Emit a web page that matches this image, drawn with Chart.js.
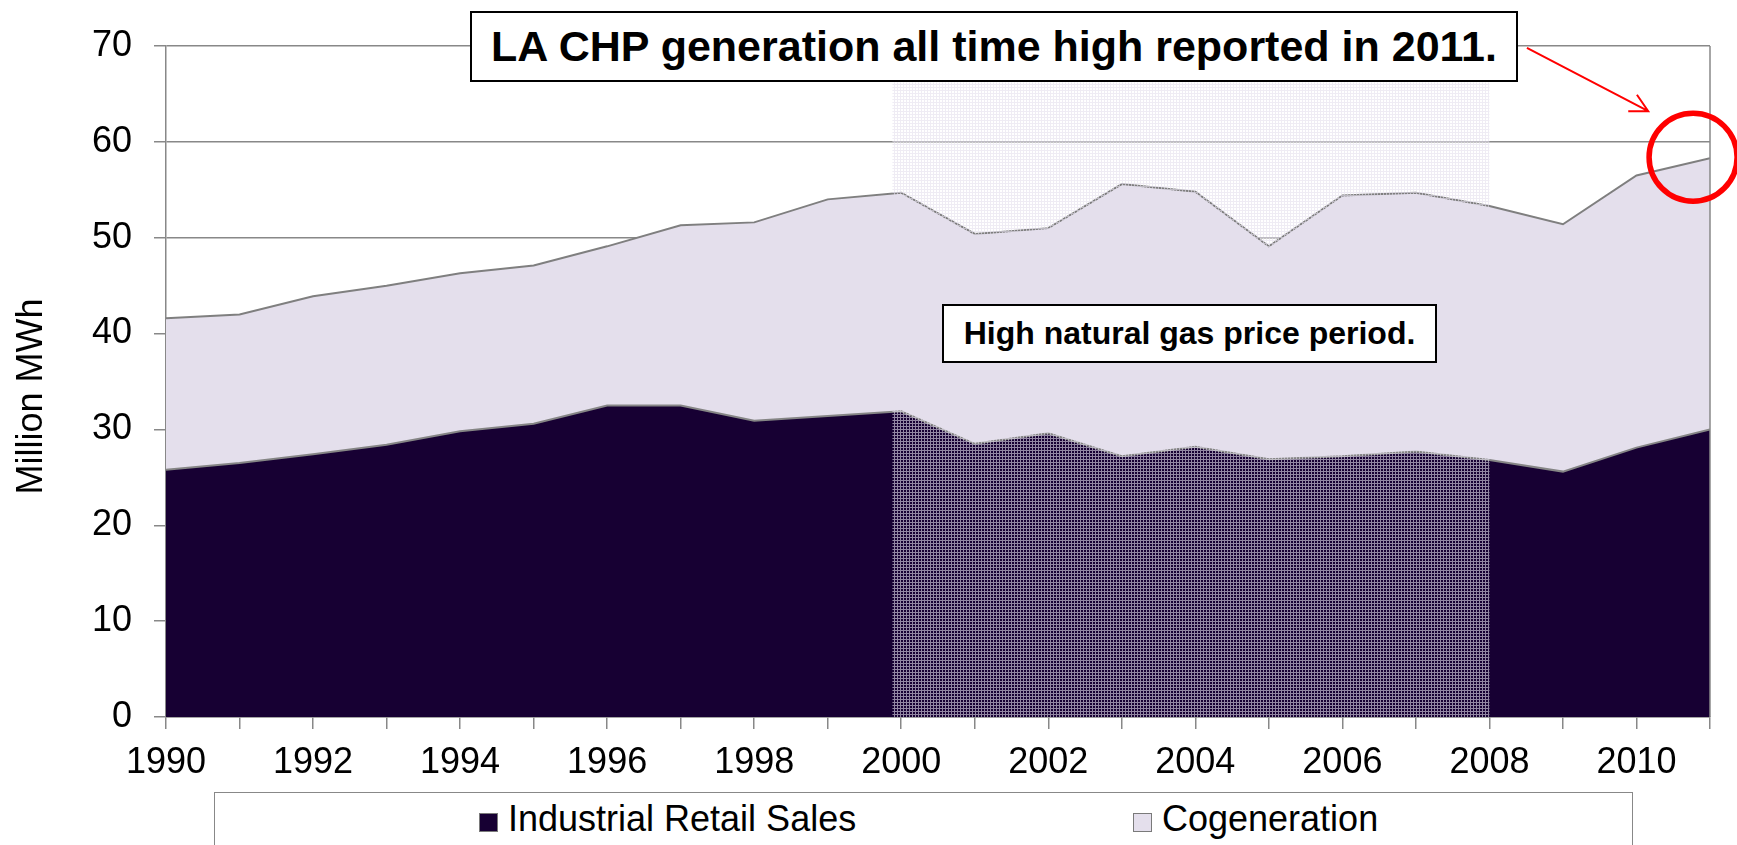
<!DOCTYPE html>
<html>
<head>
<meta charset="utf-8">
<script src="https://cdn.jsdelivr.net/npm/chart.js@4.4.1/dist/chart.umd.min.js"></script>
<style>
html,body{margin:0;padding:0;background:#fff;}
#wrap{position:relative;width:1737px;height:845px;overflow:hidden;font-family:'Liberation Sans',Arial,sans-serif;}
#chart{position:absolute;left:0;top:0;}
.box{position:absolute;background:#fff;border:2px solid #000;box-sizing:border-box;font-weight:bold;color:#000;display:flex;align-items:center;justify-content:center;white-space:nowrap;}
#legend{position:absolute;left:214px;top:792px;width:1419px;height:80px;border:1.5px solid #888;box-sizing:border-box;background:#fff;}
.lg-mark{position:absolute;width:19px;height:19px;box-sizing:border-box;border:1.5px solid #7a7a7a;}
.lg-text{position:absolute;font-size:36px;line-height:36px;color:#000;white-space:nowrap;}
</style>
</head>
<body>
<div id="wrap">
  <canvas id="chart" width="1737" height="845"></canvas>
  <div class="box" style="left:470px;top:11px;width:1048px;height:71px;font-size:43px;">LA CHP generation all time high reported in 2011.</div>
  <div class="box" style="left:942px;top:304px;width:495px;height:59px;font-size:32px;">High natural gas price period.</div>
  <div id="legend"></div>
</div>
<script>
// ---- Data (Million MWh) ----
const years = [1990,1991,1992,1993,1994,1995,1996,1997,1998,1999,2000,2001,2002,2003,2004,2005,2006,2007,2008,2009,2010,2011];
const industrialRetailSales = [25.8,26.5,27.4,28.4,29.8,30.6,32.5,32.5,30.9,31.4,31.9,28.5,29.6,27.2,28.2,26.9,27.2,27.7,26.8,25.6,28.1,30.0];
const cogeneration = [15.8,15.5,16.5,16.6,16.5,16.5,16.6,18.8,20.7,22.6,22.8,21.9,21.4,28.4,26.6,22.2,27.2,27.0,26.5,25.8,28.4,28.3];
const seriesNames = ['Industrial Retail Sales','Cogeneration'];
const yTickValues = [0,10,20,30,40,50,60,70];
const highGasPeriod = [1999.88, 2008];   // shaded period (years)
const highGasTop = 66.2;                  // top of shaded period (Million MWh)

const FONT = "'Liberation Sans', Arial, sans-serif";
const DARK = '#170033';
const LAV = '#E4DFEC';
const GRID = '#888888';

// legend (HTML)
const legend = document.getElementById('legend');
const legendItems = [
  {name: seriesNames[0], color: DARK, markX: 478, textX: 507},
  {name: seriesNames[1], color: LAV, markX: 1132, textX: 1161}
];
legendItems.forEach(it => {
  const m = document.createElement('div');
  m.className = 'lg-mark';
  m.style.left = (it.markX - 214) + 'px';
  m.style.top = (812 - 792) + 'px';
  m.style.background = it.color;
  legend.appendChild(m);
  const t = document.createElement('div');
  t.className = 'lg-text';
  t.style.left = (it.textX - 214) + 'px';
  t.style.top = (800 - 792) + 'px';
  t.textContent = it.name;
  legend.appendChild(t);
});

// pattern for the high gas price period
function makePattern(ctx){
  const pc = document.createElement('canvas');
  pc.width = 3; pc.height = 3;
  const p = pc.getContext('2d');
  p.fillStyle = 'rgba(228,223,236,0.6)';
  p.fillRect(0,0,3,1);
  p.fillRect(0,1,1,2);
  return ctx.createPattern(pc,'repeat');
}

const annotPlugin = {
  id: 'annot',
  afterDatasetsDraw(chart){
    const {ctx, chartArea: ca, scales: {x, y}} = chart;
    ctx.save();
    // shaded period
    const x0 = x.getPixelForValue(highGasPeriod[0]);
    const x1 = x.getPixelForValue(highGasPeriod[1]);
    const yt = y.getPixelForValue(highGasTop);
    const yb = y.getPixelForValue(0);
    ctx.fillStyle = makePattern(ctx);
    ctx.fillRect(x0, yt, x1 - x0, yb - yt);
    // right border of plot area
    ctx.strokeStyle = GRID;
    ctx.lineWidth = 1.5;
    ctx.beginPath();
    ctx.moveTo(ca.right, ca.top);
    ctx.lineTo(ca.right, ca.bottom);
    ctx.stroke();
    // red arrow
    const ax0 = x.getPixelForValue(2008.51), ay0 = y.getPixelForValue(69.8);
    const ax1 = x.getPixelForValue(2010.16), ay1 = y.getPixelForValue(63.2);
    ctx.strokeStyle = '#ff0000';
    ctx.lineWidth = 2;
    ctx.beginPath();
    ctx.moveTo(ax0, ay0);
    ctx.lineTo(ax1, ay1);
    const ang = Math.atan2(ay1 - ay0, ax1 - ax0) + Math.PI;
    const L = 20, da = 28 * Math.PI / 180;
    ctx.moveTo(ax1 + L * Math.cos(ang - da), ay1 + L * Math.sin(ang - da));
    ctx.lineTo(ax1, ay1);
    ctx.lineTo(ax1 + L * Math.cos(ang + da), ay1 + L * Math.sin(ang + da));
    ctx.stroke();
    // red circle
    const cx = x.getPixelForValue(2010.77), cy = y.getPixelForValue(58.4);
    ctx.lineWidth = 5.5;
    ctx.beginPath();
    ctx.arc(cx, cy, 44, 0, Math.PI * 2);
    ctx.stroke();
    ctx.restore();
  }
};

const ctx = document.getElementById('chart').getContext('2d');
new Chart(ctx, {
  type: 'line',
  data: {
    datasets: [
      {
        label: seriesNames[0],
        data: years.map((yr, i) => ({x: yr, y: industrialRetailSales[i]})),
        backgroundColor: DARK,
        borderColor: '#858585',
        borderWidth: 2,
        pointRadius: 0,
        tension: 0,
        fill: 'origin'
      },
      {
        label: seriesNames[1],
        data: years.map((yr, i) => ({x: yr, y: cogeneration[i]})),
        backgroundColor: LAV,
        borderColor: '#7f7f7f',
        borderWidth: 2,
        pointRadius: 0,
        tension: 0,
        fill: '-1'
      }
    ]
  },
  options: {
    responsive: false,
    animation: false,
    devicePixelRatio: 1,
    layout: {padding: {top: 46, right: 27, left: 0, bottom: 0}},
    plugins: {legend: {display: false}, tooltip: {enabled: false}, title: {display: false}},
    scales: {
      x: {
        type: 'linear',
        min: years[0],
        max: years[years.length - 1],
        ticks: {
          stepSize: 1,
          autoSkip: false,
          maxRotation: 0,
          minRotation: 0,
          padding: 12,
          color: '#000',
          font: {family: FONT, size: 36},
          callback: v => (v % 2 === 0 ? String(v) : '')
        },
        grid: {drawOnChartArea: false, drawTicks: true, tickLength: 12, color: GRID, lineWidth: 1.5},
        border: {display: true, color: GRID, width: 1.5},
        afterFit: s => { s.height = 128; }
      },
      y: {
        stacked: true,
        min: 0,
        max: 70,
        afterBuildTicks: s => { s.ticks = yTickValues.map(v => ({value: v})); },
        ticks: {padding: 22, color: '#000', font: {family: FONT, size: 36}},
        grid: {color: GRID, lineWidth: 1.5, tickLength: 12, drawTicks: true},
        border: {display: true, color: GRID, width: 1.5},
        title: {display: true, text: 'Million MWh   ', color: '#000', font: {family: FONT, size: 36}, padding: {top: 10, bottom: 0}},
        afterFit: s => { s.width = 166; }
      }
    }
  },
  plugins: [annotPlugin]
});
</script>
</body>
</html>
